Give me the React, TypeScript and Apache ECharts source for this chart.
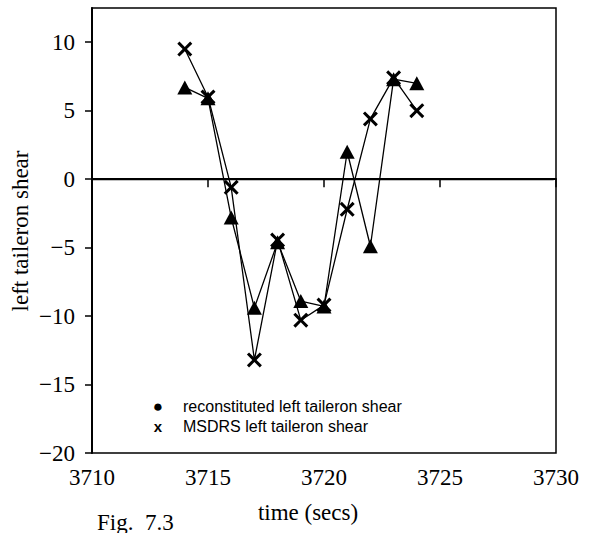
import React, { useEffect, useRef } from "react";
import * as echarts from "echarts";

const times = [3714, 3715, 3716, 3717, 3718, 3719, 3720, 3721, 3722, 3723, 3724];
const reconstituted = [6.7, 5.9, -2.8, -9.4, -4.6, -8.9, -9.3, 2.0, -4.9, 7.3, 7.0];
const msdrs = [9.5, 6.0, -0.6, -13.2, -4.45, -10.3, -9.2, -2.2, 4.4, 7.4, 5.0];
const yTicks = [-20, -15, -10, -5, 0, 5, 10];
const xTicks = [3710, 3715, 3720, 3725, 3730];
const legendLabels = ["reconstituted left taileron shear", "MSDRS left taileron shear"];

const SERIF = "Liberation Serif";
const SANS = "Liberation Sans";
const CROSS = "path://M0,2L2,0L7,5L12,0L14,2L9,7L14,12L12,14L7,9L2,14L0,12L5,7Z";

export default function App() {
  const ref = useRef<HTMLDivElement>(null);
  useEffect(() => {
    if (!ref.current) return;
    const chart = echarts.init(ref.current, null, { renderer: "svg" });
    chart.setOption({
      animation: false,
      backgroundColor: "#ffffff",
      grid: {
        left: 92,
        top: 8,
        right: 40,
        bottom: 80,
        show: true,
        borderColor: "#000",
        borderWidth: 1.5,
      },
      xAxis: {
        type: "value",
        min: 3710,
        max: 3730,
        interval: 5,
        axisLine: { lineStyle: { color: "#000", width: 2 } },
        axisTick: { show: true, length: 8, lineStyle: { color: "#000", width: 1.5 }, customValues: xTicks },
        axisLabel: {
          color: "#000",
          fontFamily: SERIF,
          fontSize: 23,
          margin: 13,
          customValues: xTicks,
          formatter: (v: number) => String(v),
        },
        splitLine: { show: false },
      },
      yAxis: {
        type: "value",
        min: -20,
        max: 12.5,
        interval: 5,
        axisLine: { onZero: false, lineStyle: { color: "#000", width: 2 } },
        axisTick: { show: true, length: 7, lineStyle: { color: "#000", width: 1.5 }, customValues: yTicks },
        axisLabel: {
          color: "#000",
          fontFamily: SERIF,
          fontSize: 23,
          margin: 17,
          customValues: yTicks,
          formatter: (v: number) => (v < 0 ? "\u2212" + Math.abs(v) : String(v)),
        },
        splitLine: { show: false },
      },
      series: [
        {
          name: legendLabels[0],
          type: "line",
          data: times.map((t, i) => [t, reconstituted[i]]),
          symbol: "triangle",
          symbolSize: [15, 14],
          itemStyle: { color: "#000" },
          lineStyle: { color: "#000", width: 1.3 },
          z: 3,
          markLine: {
            silent: true,
            symbol: ["none", "none"],
            label: { show: false },
            lineStyle: { color: "#000", width: 1.3, type: "solid" },
            data: [[{ coord: [3710, 0] }, { coord: [3729.9, 0] }]],
          },
        },
        {
          name: legendLabels[1],
          type: "line",
          data: times.map((t, i) => [t, msdrs[i]]),
          symbol: CROSS,
          symbolSize: 15,
          itemStyle: { color: "#000" },
          lineStyle: { color: "#000", width: 1.3 },
          z: 4,
        },
      ],
      graphic: [
        {
          type: "text",
          x: 20,
          y: 231,
          rotation: Math.PI / 2,
          style: { text: "left taileron shear", font: `23px ${SERIF}`, fill: "#000", align: "center", verticalAlign: "middle" },
        },
        {
          type: "text",
          x: 308,
          y: 512,
          style: { text: "time (secs)", font: `23px ${SERIF}`, fill: "#000", align: "center", verticalAlign: "middle" },
        },
        {
          type: "text",
          x: 97,
          y: 522,
          style: { text: "Fig.  7.3", font: `23px ${SERIF}`, fill: "#000", align: "left", verticalAlign: "middle" },
        },
        {
          type: "text",
          x: 158,
          y: 406,
          style: { text: "\u25CF", font: `17px ${SANS}`, fill: "#000", align: "center", verticalAlign: "middle" },
        },
        {
          type: "text",
          x: 158,
          y: 426,
          style: { text: "x", font: `bold 15px ${SANS}`, fill: "#000", align: "center", verticalAlign: "middle" },
        },
        {
          type: "text",
          x: 183,
          y: 406,
          style: { text: legendLabels[0], font: `16px ${SANS}`, fill: "#000", align: "left", verticalAlign: "middle" },
        },
        {
          type: "text",
          x: 183,
          y: 426,
          style: { text: legendLabels[1], font: `16px ${SANS}`, fill: "#000", align: "left", verticalAlign: "middle" },
        },
      ],
    });
    return () => chart.dispose();
  }, []);
  return <div ref={ref} style={{ width: 596, height: 533, position: "fixed", left: 0, top: 0 }} />;
}
